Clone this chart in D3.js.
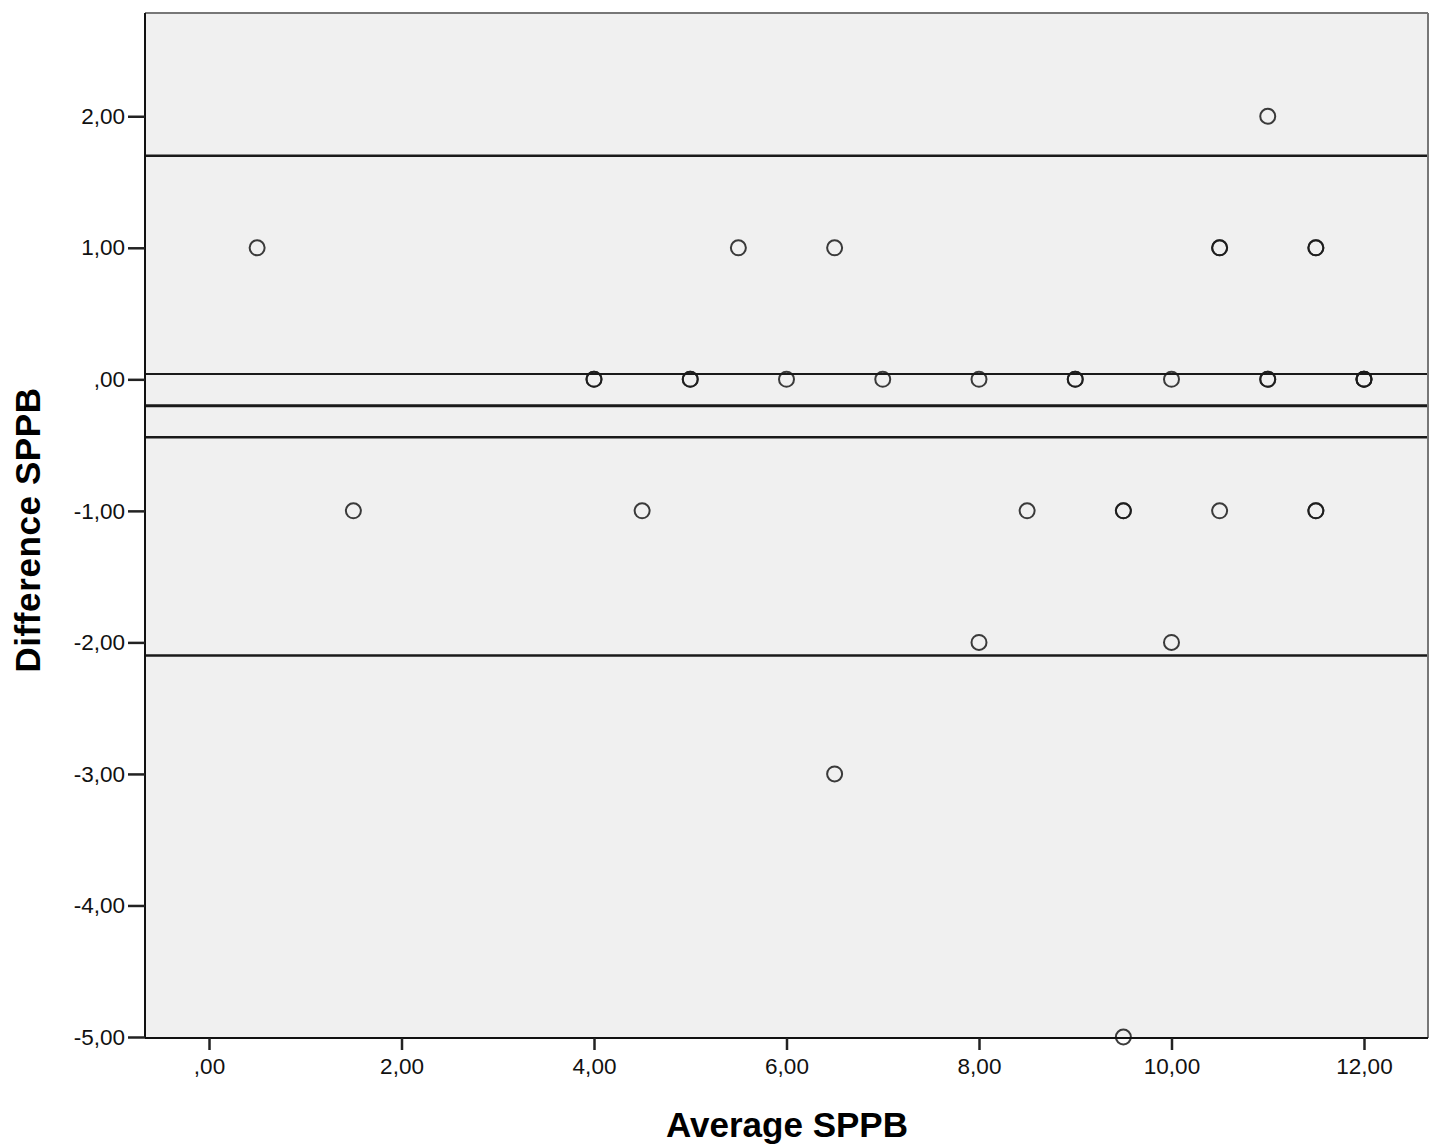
<!DOCTYPE html>
<html lang="en">
<head>
<meta charset="utf-8">
<title>Bland-Altman SPPB</title>
<style>
body { margin: 0; background: #fff; font-family: "Liberation Sans", Arial, sans-serif; }
.tick text { font-family: "Liberation Sans", Arial, sans-serif; font-size: 22.5px; fill: #111; }
.axis-title { font-family: "Liberation Sans", Arial, sans-serif; font-size: 35px; font-weight: bold; fill: #000; }
</style>
</head>
<body>
<div id="chart"></div>
<script src="https://cdn.jsdelivr.net/npm/d3@7"></script>
<script>

// average SPPB (x) and difference SPPB (y), repeated pairs are overplotted
var averages    = [0.5, 1.5, 4, 4, 4.5, 5, 5, 5.5, 6, 6.5, 6.5, 7, 8, 8, 8.5, 9, 9, 9.5, 9.5, 9.5, 10, 10, 10.5, 10.5, 10.5, 11, 11, 11, 11.5, 11.5, 11.5, 11.5, 12, 12, 12];
var differences = [1, -1, 0, 0, -1, 0, 0, 1, 0, 1, -3, 0, 0, -2, -1, 0, 0, -1, -1, -5, 0, -2, 1, 1, -1, 2, 0, 0, 1, 1, -1, -1, 0, 0, 0];

// upper limit, CI upper, mean, CI lower, lower limit
var refLines = [1.70, 0.04, -0.20, -0.44, -2.10];
var refWidths = [2.5, 2, 3, 2.5, 2.5];

var xTicks = [0, 2, 4, 6, 8, 10, 12];
var yTicks = [2, 1, 0, -1, -2, -3, -4, -5];

var width = 1436, height = 1144;
var plotLeft = 145, plotRight = 1428, plotTop = 13, plotBottom = 1038;

var svg = d3.select("#chart").append("svg")
  .attr("width", width).attr("height", height);

var x = d3.scaleLinear().domain([-0.665, 12.665]).range([plotLeft, plotRight]);
var y = d3.scaleLinear().domain([-5, 2.785]).range([plotBottom - 1, plotTop]);

// SPSS style: comma decimals, no leading zero, plain hyphen
function fmt(v) {
  var s = v.toFixed(2).replace(".", ",");
  return s.replace(/^0,/, ",").replace(/^-0,/, "-,");
}

// plot background
svg.append("rect")
  .attr("x", plotLeft).attr("y", plotTop)
  .attr("width", plotRight - plotLeft).attr("height", plotBottom - plotTop)
  .attr("fill", "#f0f0f0");

// reference lines
svg.selectAll("line.ref").data(refLines).enter().append("line")
  .attr("class", "ref")
  .attr("x1", plotLeft).attr("x2", plotRight)
  .attr("y1", function(d) { return y(d); })
  .attr("y2", function(d) { return y(d); })
  .attr("stroke", "#1a1a1a")
  .attr("stroke-width", function(d, i) { return refWidths[i]; });

// points
svg.selectAll("circle.pt").data(averages).enter().append("circle")
  .attr("class", "pt")
  .attr("cx", function(d) { return x(d); })
  .attr("cy", function(d, i) { return y(differences[i]); })
  .attr("r", 7.5)
  .attr("fill", "none")
  .attr("stroke", "#1a1a1a")
  .attr("stroke-width", 2)
  .attr("stroke-opacity", 0.85);

// frame: top and right in grey, left and bottom as axes
svg.append("line").attr("x1", plotLeft).attr("x2", plotRight).attr("y1", plotTop).attr("y2", plotTop)
  .attr("stroke", "#777").attr("stroke-width", 2);
svg.append("line").attr("x1", plotRight).attr("x2", plotRight).attr("y1", plotTop).attr("y2", plotBottom)
  .attr("stroke", "#777").attr("stroke-width", 2);

var xAxis = d3.axisBottom(x).tickValues(xTicks).tickFormat(fmt).tickSize(12).tickPadding(8);
var gx = svg.append("g").attr("transform", "translate(0," + plotBottom + ")").call(xAxis);
gx.select(".domain").attr("stroke", "#111").attr("stroke-width", 2)
  .attr("d", "M" + plotLeft + ",0H" + plotRight);
gx.selectAll(".tick line").attr("stroke", "#222").attr("stroke-width", 2.5);

var yAxis = d3.axisLeft(y).tickValues(yTicks).tickFormat(fmt).tickSize(17).tickPadding(3);
var gy = svg.append("g").attr("transform", "translate(" + plotLeft + ",0)").call(yAxis);
gy.select(".domain").attr("stroke", "#111").attr("stroke-width", 2)
  .attr("d", "M0," + plotTop + "V" + plotBottom);
gy.selectAll(".tick line").attr("stroke", "#222").attr("stroke-width", 2.5);

// axis titles
svg.append("text").attr("class", "axis-title")
  .attr("x", 787).attr("y", 1137)
  .attr("text-anchor", "middle")
  .text("Average SPPB");

svg.append("text").attr("class", "axis-title")
  .attr("transform", "translate(40,530) rotate(-90)")
  .attr("text-anchor", "middle")
  .style("letter-spacing", "0.6px")
  .text("Difference SPPB");

</script>
</body>
</html>
